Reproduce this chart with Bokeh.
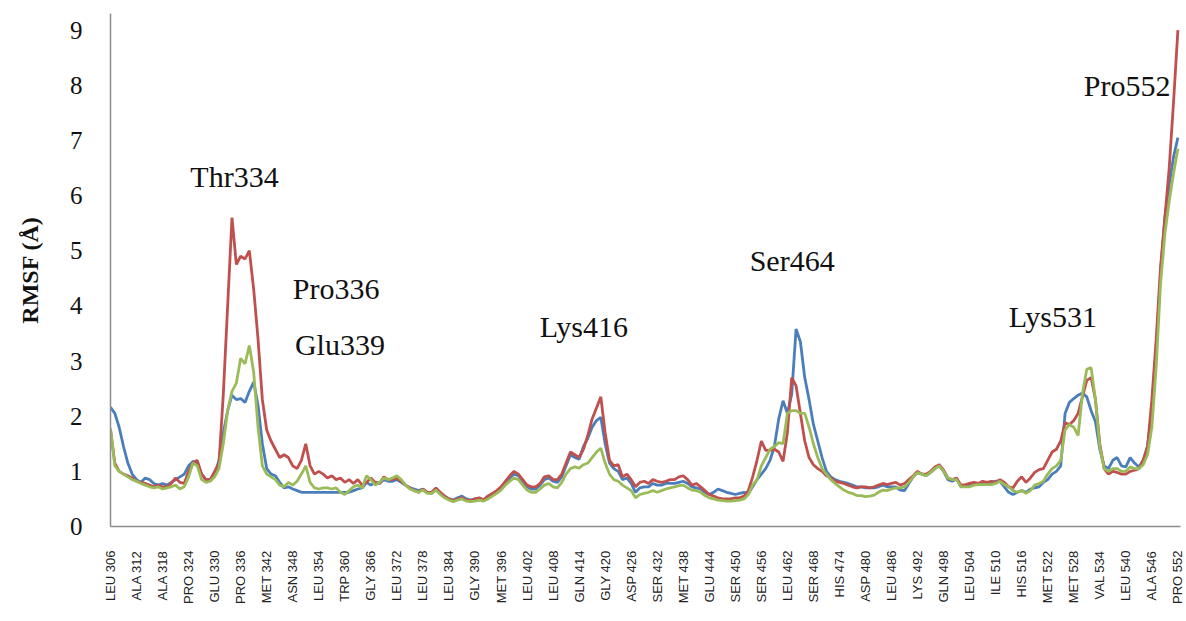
import math
from bokeh.plotting import figure
from bokeh.models import FixedTicker, Range1d, ColumnDataSource
from bokeh.embed import file_html
from bokeh.resources import INLINE
from bokeh.core.properties import value

# residue numbers (category axis)
residues = list(range(306, 553))

# tick labels (every 6th residue)
tick_residues = list(range(306, 553, 6))
tick_names = ["LEU", "ALA", "ALA", "PRO", "GLU", "PRO", "MET", "ASN", "LEU", "TRP",
              "GLY", "LEU", "LEU", "LEU", "GLY", "MET", "LEU", "LEU", "GLN", "GLY",
              "ASP", "SER", "MET", "GLU", "SER", "SER", "LEU", "SER", "HIS", "ASP",
              "LEU", "LYS", "GLN", "LEU", "ILE", "HIS", "MET", "MET", "VAL", "LEU",
              "ALA", "PRO"]

rmsf_blue = [
    2.16, 2.05, 1.80, 1.45, 1.15, 0.95, 0.85, 0.80, 0.88, 0.85,  # 306
    0.78, 0.75, 0.78, 0.75, 0.80, 0.85, 0.90, 0.95, 1.10, 1.18,  # 316
    1.15, 0.95, 0.85, 0.85, 0.95, 1.20, 1.70, 2.10, 2.38, 2.30,  # 326
    2.32, 2.25, 2.45, 2.62, 2.20, 1.50, 1.05, 0.95, 0.92, 0.80,  # 336
    0.70, 0.72, 0.68, 0.65, 0.62, 0.62, 0.62, 0.62, 0.62, 0.62,  # 346
    0.62, 0.62, 0.62, 0.62, 0.62, 0.62, 0.65, 0.68, 0.70, 0.80,  # 356
    0.75, 0.80, 0.78, 0.85, 0.82, 0.82, 0.85, 0.80, 0.75, 0.70,  # 366
    0.68, 0.65, 0.68, 0.62, 0.60, 0.68, 0.60, 0.55, 0.50, 0.48,  # 376
    0.52, 0.55, 0.50, 0.48, 0.50, 0.50, 0.48, 0.55, 0.58, 0.62,  # 386
    0.70, 0.78, 0.88, 0.95, 0.92, 0.82, 0.72, 0.68, 0.68, 0.75,  # 396
    0.85, 0.88, 0.82, 0.80, 0.90, 1.10, 1.30, 1.25, 1.22, 1.45,  # 406
    1.60, 1.80, 1.92, 1.98, 1.50, 1.15, 1.05, 1.00, 0.85, 0.88,  # 416
    0.78, 0.62, 0.70, 0.72, 0.72, 0.78, 0.75, 0.75, 0.78, 0.78,  # 426
    0.78, 0.80, 0.82, 0.78, 0.72, 0.70, 0.68, 0.62, 0.58, 0.62,  # 436
    0.68, 0.65, 0.62, 0.60, 0.58, 0.60, 0.62, 0.60, 0.72, 0.85,  # 446
    0.95, 1.05, 1.20, 1.45, 1.95, 2.28, 2.05, 2.40, 3.58, 3.35,  # 456
    2.70, 2.30, 1.85, 1.55, 1.25, 1.00, 0.90, 0.85, 0.82, 0.80,  # 466
    0.78, 0.75, 0.72, 0.72, 0.70, 0.70, 0.70, 0.72, 0.75, 0.72,  # 476
    0.72, 0.72, 0.66, 0.65, 0.78, 0.90, 0.98, 0.95, 0.92, 0.98,  # 486
    1.05, 1.10, 1.00, 0.85, 0.82, 0.86, 0.72, 0.74, 0.76, 0.76,  # 496
    0.76, 0.78, 0.78, 0.80, 0.82, 0.82, 0.72, 0.62, 0.58, 0.62,  # 506
    0.65, 0.62, 0.68, 0.70, 0.72, 0.80, 0.85, 0.95, 1.00, 1.10,  # 516
    2.05, 2.25, 2.32, 2.38, 2.42, 2.35, 2.10, 1.90, 1.40, 1.10,  # 526
    1.05, 1.20, 1.25, 1.10, 1.08, 1.25, 1.15, 1.08, 1.20, 1.45,  # 536
    2.10, 3.20, 4.60, 5.60, 6.20, 6.70, 7.05,                    # 546
]

rmsf_red = [
    1.75, 1.15, 1.00, 0.95, 0.92, 0.88, 0.82, 0.80, 0.78, 0.75,  # 306
    0.72, 0.75, 0.72, 0.72, 0.78, 0.88, 0.80, 0.78, 1.00, 1.15,  # 316
    1.20, 0.95, 0.85, 0.85, 1.00, 1.15, 2.40, 4.00, 5.60, 4.75,  # 326
    4.90, 4.85, 5.00, 4.30, 3.40, 2.30, 1.75, 1.55, 1.40, 1.25,  # 336
    1.30, 1.25, 1.10, 1.05, 1.20, 1.50, 1.10, 0.95, 1.00, 0.95,  # 346
    0.88, 0.92, 0.85, 0.88, 0.80, 0.85, 0.78, 0.85, 0.75, 0.80,  # 356
    0.88, 0.80, 0.78, 0.90, 0.85, 0.85, 0.88, 0.82, 0.75, 0.70,  # 366
    0.65, 0.62, 0.68, 0.62, 0.62, 0.70, 0.62, 0.55, 0.50, 0.47,  # 376
    0.50, 0.52, 0.48, 0.47, 0.50, 0.52, 0.48, 0.55, 0.60, 0.65,  # 386
    0.72, 0.82, 0.92, 1.00, 0.95, 0.85, 0.75, 0.72, 0.72, 0.78,  # 396
    0.90, 0.92, 0.85, 0.85, 0.95, 1.15, 1.35, 1.30, 1.25, 1.40,  # 406
    1.65, 1.95, 2.15, 2.35, 1.70, 1.20, 1.10, 1.12, 0.90, 0.95,  # 416
    0.85, 0.72, 0.80, 0.82, 0.78, 0.85, 0.82, 0.80, 0.82, 0.85,  # 426
    0.85, 0.90, 0.92, 0.85, 0.75, 0.78, 0.72, 0.65, 0.58, 0.55,  # 436
    0.52, 0.50, 0.50, 0.50, 0.52, 0.52, 0.55, 0.65, 0.90, 1.20,  # 446
    1.55, 1.38, 1.38, 1.40, 1.35, 1.18, 1.70, 2.70, 2.55, 2.05,  # 456
    1.55, 1.25, 1.12, 1.05, 1.00, 0.92, 0.88, 0.82, 0.80, 0.78,  # 466
    0.75, 0.72, 0.70, 0.72, 0.72, 0.70, 0.72, 0.75, 0.78, 0.76,  # 476
    0.78, 0.80, 0.75, 0.78, 0.85, 0.92, 1.00, 0.95, 0.95, 1.00,  # 486
    1.08, 1.12, 1.02, 0.88, 0.85, 0.88, 0.75, 0.76, 0.78, 0.80,  # 496
    0.78, 0.82, 0.80, 0.82, 0.80, 0.85, 0.80, 0.72, 0.70, 0.82,  # 506
    0.90, 0.80, 0.88, 0.98, 1.03, 1.05, 1.20, 1.35, 1.40, 1.55,  # 516
    1.88, 1.85, 1.92, 2.05, 2.35, 2.65, 2.70, 2.30, 1.50, 1.05,  # 526
    0.95, 1.00, 0.98, 0.95, 0.95, 1.00, 1.02, 1.05, 1.20, 1.45,  # 536
    2.30, 3.40, 4.70, 5.60, 6.50, 7.70, 9.00,                    # 546
]

rmsf_green = [
    1.78, 1.10, 1.00, 0.95, 0.90, 0.85, 0.82, 0.78, 0.75, 0.72,  # 306
    0.70, 0.72, 0.68, 0.70, 0.72, 0.75, 0.68, 0.72, 0.90, 1.15,  # 316
    1.10, 0.85, 0.80, 0.82, 0.90, 1.05, 1.50, 2.10, 2.45, 2.60,  # 326
    3.05, 2.95, 3.28, 2.80, 1.80, 1.10, 0.95, 0.90, 0.85, 0.75,  # 336
    0.72, 0.80, 0.75, 0.82, 0.95, 1.10, 0.80, 0.70, 0.68, 0.70,  # 346
    0.70, 0.68, 0.70, 0.62, 0.58, 0.65, 0.72, 0.75, 0.70, 0.92,  # 356
    0.85, 0.75, 0.80, 0.88, 0.85, 0.88, 0.92, 0.85, 0.75, 0.68,  # 366
    0.65, 0.62, 0.66, 0.60, 0.60, 0.66, 0.58, 0.52, 0.48, 0.45,  # 376
    0.48, 0.50, 0.46, 0.45, 0.46, 0.48, 0.46, 0.50, 0.55, 0.60,  # 386
    0.66, 0.75, 0.82, 0.88, 0.85, 0.75, 0.66, 0.62, 0.62, 0.68,  # 396
    0.75, 0.78, 0.72, 0.70, 0.80, 0.95, 1.05, 1.08, 1.06, 1.12,  # 406
    1.15, 1.25, 1.35, 1.42, 1.15, 0.95, 0.85, 0.82, 0.75, 0.70,  # 416
    0.65, 0.52, 0.58, 0.60, 0.62, 0.65, 0.62, 0.65, 0.68, 0.70,  # 426
    0.72, 0.74, 0.75, 0.70, 0.66, 0.65, 0.62, 0.56, 0.52, 0.50,  # 436
    0.48, 0.47, 0.46, 0.46, 0.47, 0.48, 0.50, 0.58, 0.75, 0.85,  # 446
    1.10, 1.25, 1.40, 1.45, 1.52, 1.50, 2.05, 2.10, 2.10, 2.05,  # 456
    2.05, 1.80, 1.50, 1.25, 1.05, 0.95, 0.85, 0.78, 0.72, 0.66,  # 466
    0.62, 0.60, 0.56, 0.56, 0.54, 0.55, 0.57, 0.62, 0.66, 0.65,  # 476
    0.68, 0.70, 0.70, 0.72, 0.80, 0.90, 0.98, 0.95, 0.92, 0.98,  # 486
    1.05, 1.10, 1.00, 0.88, 0.85, 0.85, 0.72, 0.72, 0.72, 0.75,  # 496
    0.76, 0.76, 0.76, 0.76, 0.78, 0.82, 0.76, 0.72, 0.65, 0.62,  # 506
    0.65, 0.60, 0.65, 0.75, 0.78, 0.82, 0.95, 1.05, 1.10, 1.20,  # 516
    1.75, 1.85, 1.80, 1.65, 2.40, 2.85, 2.88, 2.30, 1.45, 1.05,  # 526
    1.00, 1.05, 1.05, 1.00, 1.00, 1.08, 1.05, 1.05, 1.12, 1.30,  # 536
    1.80, 2.90, 4.40, 5.30, 5.90, 6.40, 6.85,                    # 546
]

ann_text = ["Thr334", "Pro336", "Glu339", "Lys416", "Ser464", "Lys531", "Pro552"]
ann_x = [324.4, 348.0, 348.5, 404.9, 453.3, 513.0, 530.3]
ann_y = [6.35, 4.32, 3.30, 3.63, 4.82, 3.81, 8.00]

p = figure(width=1184, height=615, output_backend="svg", toolbar_location=None,
           x_range=Range1d(306, 552.6), y_range=Range1d(0, 9.3),
           min_border_left=110, min_border_right=4, min_border_top=13,
           min_border_bottom=89)

p.line(residues, rmsf_blue, line_color="#4A7EBB", line_width=2.8)
p.line(residues, rmsf_red, line_color="#C0504D", line_width=2.8)
p.line(residues, rmsf_green, line_color="#9BBB59", line_width=2.8)

src = ColumnDataSource(dict(x=ann_x, y=ann_y, t=ann_text))
p.text(x="x", y="y", text="t", source=src, text_font=value("Liberation Serif"),
       text_font_size="30px", text_color="#111111", text_align="left",
       text_baseline="middle")

p.xgrid.visible = False
p.ygrid.visible = False
p.outline_line_color = None
p.background_fill_color = "white"
p.border_fill_color = "white"

ya = p.yaxis[0]
ya.ticker = FixedTicker(ticks=list(range(0, 10)))
ya.major_tick_line_color = None
ya.minor_tick_line_color = None
ya.axis_line_color = "#8C8C8C"
ya.axis_line_width = 1.5
ya.major_label_text_font = "Liberation Serif"
ya.major_label_text_font_size = "25px"
ya.major_label_text_color = "#111111"
ya.major_label_standoff = 22
ya.axis_label = "RMSF (Å)"
ya.axis_label_text_font = "Liberation Serif"
ya.axis_label_text_font_style = "bold"
ya.axis_label_text_font_size = "24px"
ya.axis_label_text_color = "#111111"
ya.axis_label_standoff = 24

xa = p.xaxis[0]
xa.ticker = FixedTicker(ticks=tick_residues)
xa.major_label_overrides = {r: f"{n} {r}" for r, n in zip(tick_residues, tick_names)}
xa.major_label_orientation = math.pi / 2
xa.major_tick_line_color = None
xa.minor_tick_line_color = None
xa.axis_line_color = "#8C8C8C"
xa.axis_line_width = 1.5
xa.major_label_text_font = "Liberation Sans"
xa.major_label_text_font_size = "13px"
xa.major_label_text_color = "#222222"
xa.major_label_standoff = 18

open("out.html", "w").write(file_html(p, INLINE))
